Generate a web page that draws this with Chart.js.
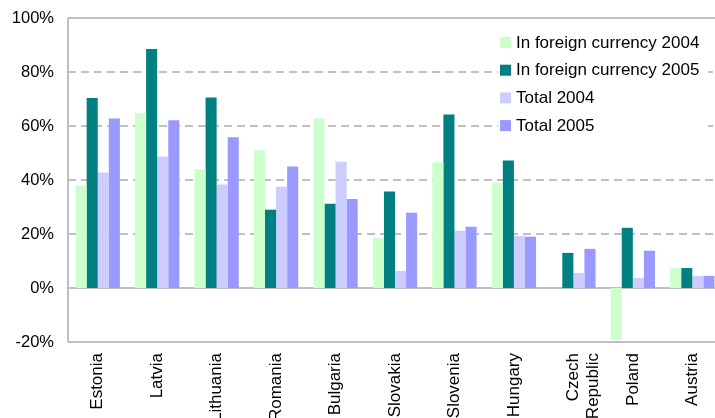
<!DOCTYPE html>
<html>
<head>
<meta charset="utf-8">
<script src="https://cdn.jsdelivr.net/npm/chart.js@4/dist/chart.umd.min.js"></script>
<style>
  html, body { margin: 0; padding: 0; background: #fff; }
  #wrap { width: 715px; height: 418px; overflow: hidden; }
</style>
</head>
<body>
<div id="wrap"><canvas id="fxChart" width="722" height="418"></canvas></div>
<script>
// Share of loans: foreign currency vs total, 2004 and 2005
const countries = ['Estonia', 'Latvia', 'Lithuania', 'Romania', 'Bulgaria', 'Slovakia',
    'Slovenia', 'Hungary', ['Czech', 'Republic'], 'Poland', 'Austria'];
const foreign2004 = [38, 64.7, 44, 51, 62.8, 18.6, 46.5, 39, 0, -19.3, 7.4];
const foreign2005 = [70.4, 88.5, 70.6, 29, 31.2, 35.7, 64.3, 47.2, 13, 22.3, 7.4];
const total2004 = [42.8, 48.7, 38.3, 37.5, 46.8, 6.3, 21.2, 19.3, 5.6, 3.7, 4.5];
const total2005 = [62.8, 62.1, 55.8, 45, 33, 27.9, 22.7, 19, 14.5, 13.8, 4.5];
const yTicks = [-20, 0, 20, 40, 60, 80, 100];

const font = "'Liberation Sans', Arial, sans-serif";

// frame, zero line and dashed gridlines
const framePlugin = {
    id: 'frame',
    beforeDatasetsDraw(chart) {
        const ctx = chart.ctx;
        const area = chart.chartArea;
        const y = chart.scales.y;
        ctx.save();
        ctx.strokeStyle = '#c0c0c0';
        ctx.lineWidth = 2;
        yTicks.forEach(v => {
            const py = Math.round(y.getPixelForValue(v));
            ctx.setLineDash(v === 0 || v === -20 || v === 100 ? [] : [8, 5]);
            ctx.beginPath();
            ctx.moveTo(area.left, py);
            ctx.lineTo(area.right, py);
            ctx.stroke();
        });
        ctx.setLineDash([]);
        ctx.beginPath();
        ctx.moveTo(area.left, area.top);
        ctx.lineTo(area.left, area.bottom);
        ctx.stroke();
        ctx.restore();
    }
};

// legend inside the plot, top right
const legendPlugin = {
    id: 'innerLegend',
    afterDraw(chart) {
        const ctx = chart.ctx;
        const area = chart.chartArea;
        ctx.save();
        ctx.font = '17px ' + font;
        ctx.textBaseline = 'middle';
        chart.data.datasets.forEach((ds, i) => {
            const x = area.left + 432;
            const y = area.top + 24 + i * 27.7;
            ctx.fillStyle = '#fff';
            ctx.fillRect(x - 2, y - 11, 210, 23);
            ctx.fillStyle = ds.backgroundColor;
            ctx.fillRect(x, y - 5, 11, 11);
            ctx.fillStyle = '#000';
            ctx.fillText(ds.label, x + 16, y + 1);
        });
        ctx.restore();
    }
};

new Chart(document.getElementById('fxChart'), {
    type: 'bar',
    data: {
        labels: countries,
        datasets: [
            { label: 'In foreign currency 2004', data: foreign2004, backgroundColor: '#ccffcc' },
            { label: 'In foreign currency 2005', data: foreign2005, backgroundColor: '#008080' },
            { label: 'Total 2004', data: total2004, backgroundColor: '#ccccff' },
            { label: 'Total 2005', data: total2005, backgroundColor: '#9999ff' }
        ]
    },
    options: {
        responsive: false,
        animation: false,
        devicePixelRatio: 1,
        layout: { padding: { top: 18, left: 0, right: 0, bottom: 0 } },
        datasets: {
            bar: { categoryPercentage: 0.745, barPercentage: 1.0 }
        },
        plugins: {
            legend: { display: false },
            tooltip: { enabled: false }
        },
        scales: {
            x: {
                grid: { display: false },
                border: { display: false },
                ticks: {
                    color: '#000',
                    font: { family: font, size: 17 },
                    minRotation: 90,
                    maxRotation: 90,
                    autoSkip: false,
                    padding: 3
                },
                afterFit(scale) { scale.height = 76; }
            },
            y: {
                min: -20,
                max: 100,
                grid: { display: false },
                border: { display: false },
                ticks: {
                    stepSize: 20,
                    color: '#000',
                    font: { family: font, size: 16.5 },
                    padding: 6,
                    callback: v => v + '%'
                },
                afterFit(scale) { scale.width = 68; }
            }
        }
    },
    plugins: [framePlugin, legendPlugin]
});
</script>
</body>
</html>
